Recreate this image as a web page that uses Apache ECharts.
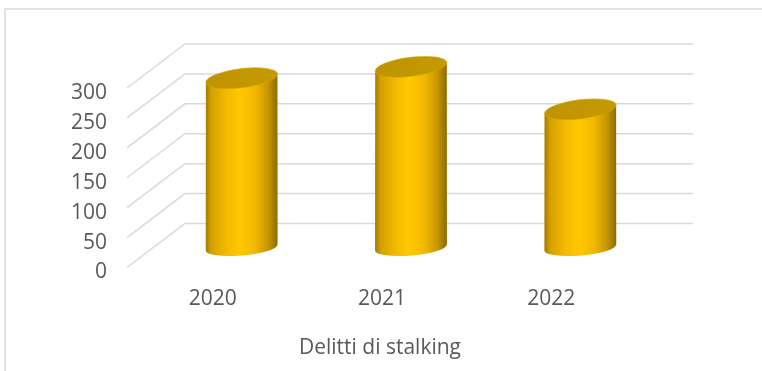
<!DOCTYPE html>
<html>
<head>
<meta charset="utf-8">
<style>
  html, body { margin: 0; padding: 0; background: #ffffff; }
  #chart { width: 762px; height: 371px; }
</style>
<script src="https://cdn.jsdelivr.net/npm/echarts@6/dist/echarts.min.js"></script>
</head>
<body>
<div id="chart"></div>
<script>
// Data
const categories = ['2020', '2021', '2022'];
const values = [283, 302, 231];
const yTicks = [0, 50, 100, 150, 200, 250, 300];
const axisTitle = 'Delitti di stalking';

// Pseudo-3D depth offsets (front plane -> cylinder plane, front plane -> back wall)
const MID_DX = 29, MID_DY = -20;
const BACK_DX = 57, BACK_DY = -44;
const TILT_TOP = 7, TILT_BOTTOM = 5; // degrees
const RY_TOP = 9.5, RY_BOTTOM = 8;

const FONT = '"Open Sans", "Noto Sans", sans-serif';
const TEXT_COLOR = '#595959';
const GRID_COLOR = '#d9d9d9';

const chart = echarts.init(document.getElementById('chart'), null, { renderer: 'canvas' });

function ends(cx, cy, rx, deg) {
  const t = deg * Math.PI / 180;
  return {
    l: [cx - rx * Math.cos(t), cy + rx * Math.sin(t)],
    r: [cx + rx * Math.cos(t), cy - rx * Math.sin(t)]
  };
}

function renderWall(params, api) {
  const v = api.value(1);
  const cs = params.coordSys;
  const y = api.coord([0, v])[1];
  return {
    type: 'polyline',
    shape: {
      points: [
        [cs.x - 1, y],
        [cs.x + BACK_DX, y + BACK_DY],
        [cs.x + BACK_DX + cs.width, y + BACK_DY]
      ]
    },
    style: { stroke: GRID_COLOR, lineWidth: 1.5, fill: null },
    silent: true
  };
}

function renderCylinder(params, api) {
  const i = api.value(0);
  const v = api.value(1);
  const base = api.coord([i, 0]);
  const top = api.coord([i, v]);
  const band = api.size([1, 0])[0];
  const rx = band * 0.213;
  const cx = base[0] + MID_DX;
  const yb = base[1] + MID_DY;
  const yt = top[1] + MID_DY;

  const T = ends(cx, yt, rx, TILT_TOP);
  const B = ends(cx, yb, rx, TILT_BOTTOM);

  const bodyPath =
    'M' + T.l[0] + ',' + T.l[1] +
    ' L' + B.l[0] + ',' + B.l[1] +
    ' A' + rx + ',' + RY_BOTTOM + ' ' + (-TILT_BOTTOM) + ' 0 0 ' + B.r[0] + ',' + B.r[1] +
    ' L' + T.r[0] + ',' + T.r[1] + ' Z';

  const topPath =
    'M' + T.l[0] + ',' + T.l[1] +
    ' A' + rx + ',' + RY_TOP + ' ' + (-TILT_TOP) + ' 0 1 ' + T.r[0] + ',' + T.r[1] +
    ' A' + rx + ',' + RY_TOP + ' ' + (-TILT_TOP) + ' 0 1 ' + T.l[0] + ',' + T.l[1] + ' Z';

  return {
    type: 'group',
    children: [
      {
        type: 'path',
        shape: { pathData: bodyPath },
        style: {
          fill: new echarts.graphic.LinearGradient(0, 0, 1, 0, [
            { offset: 0, color: '#a27a00' },
            { offset: 0.08, color: '#d4a000' },
            { offset: 0.3, color: '#f5bb00' },
            { offset: 0.48, color: '#ffc800' },
            { offset: 0.68, color: '#f3b900' },
            { offset: 0.86, color: '#c99700' },
            { offset: 1, color: '#8c6a00' }
          ])
        }
      },
      {
        type: 'path',
        shape: { pathData: topPath },
        style: {
          fill: new echarts.graphic.LinearGradient(0, 0, 1, 0, [
            { offset: 0, color: '#c09300' },
            { offset: 1, color: '#c49a00' }
          ]),
          stroke: '#d6a600',
          lineWidth: 0.6
        }
      }
    ]
  };
}

const option = {
  backgroundColor: '#ffffff',
  animation: false,
  grid: { left: 128, width: 508, top: 88, height: 179.5 },
  xAxis: {
    type: 'category',
    data: categories,
    axisLine: { show: false },
    axisTick: { show: false },
    splitLine: { show: false },
    axisLabel: { color: TEXT_COLOR, fontFamily: FONT, fontSize: 21, margin: 21 }
  },
  yAxis: {
    type: 'value',
    min: 0,
    max: 300,
    interval: 50,
    axisLine: { show: false },
    axisTick: { show: false },
    splitLine: { show: false },
    axisLabel: {
      margin: 21,
      formatter: v => '{t|' + v + '}',
      rich: {
        t: {
          color: TEXT_COLOR, fontFamily: FONT, fontSize: 21,
          padding: [10, 0, 0, 0]
        }
      }
    }
  },
  graphic: [
    {
      type: 'rect',
      shape: { x: 5, y: 9, width: 800, height: 400 },
      style: { fill: null, stroke: GRID_COLOR, lineWidth: 1.5 },
      silent: true,
      z: -10
    },
    {
      type: 'text',
      x: 380,
      y: 348,
      style: {
        text: axisTitle,
        fill: TEXT_COLOR,
        font: '21px ' + FONT,
        align: 'center',
        verticalAlign: 'middle'
      }
    }
  ],
  series: [
    {
      type: 'custom',
      name: 'wall',
      data: yTicks.map(v => [0, v]),
      encode: { x: 0, y: 1 },
      renderItem: renderWall,
      z: 1,
      silent: true
    },
    {
      type: 'custom',
      name: axisTitle,
      data: values.map((v, i) => [i, v]),
      encode: { x: 0, y: 1 },
      renderItem: renderCylinder,
      z: 2
    }
  ]
};

chart.setOption(option);
</script>
</body>
</html>
